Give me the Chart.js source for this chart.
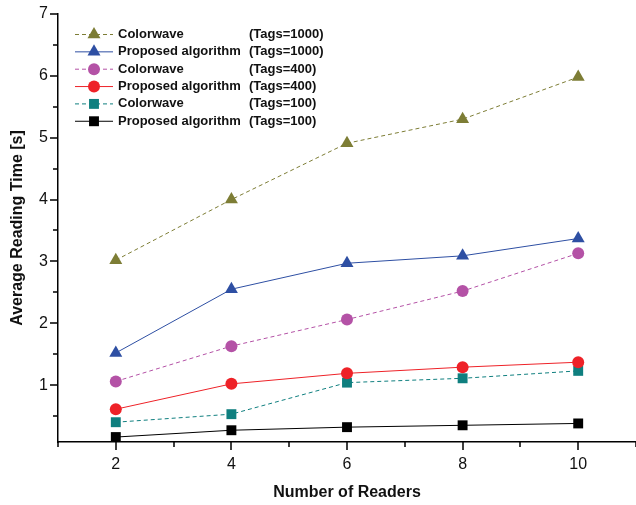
<!DOCTYPE html>
<html>
<head>
<meta charset="utf-8">
<script src="https://cdn.jsdelivr.net/npm/chart.js@4.4.1/dist/chart.umd.min.js"></script>
<style>
  html, body { margin: 0; padding: 0; background: #fff; }
  #wrap { width: 636px; height: 505px; position: relative; }
</style>
</head>
<body>
<div id="wrap"><canvas id="readChart"></canvas></div>
<script>
// Veriler
const readers = [2, 4, 6, 8, 10];
const colorwave1000 = [3.02, 4.00, 4.91, 5.30, 5.98];
const proposed1000 = [1.52, 2.55, 2.97, 3.09, 3.37];
const colorwave400 = [1.06, 1.63, 2.06, 2.52, 3.13];
const proposed400 = [0.61, 1.02, 1.19, 1.29, 1.37];
const colorwave100 = [0.40, 0.53, 1.04, 1.11, 1.23];
const proposed100 = [0.16, 0.27, 0.32, 0.35, 0.38];

const seriesNames = ['Colorwave', 'Proposed algorithm', 'Colorwave', 'Proposed algorithm', 'Colorwave', 'Proposed algorithm'];
const seriesTags = ['(Tags=1000)', '(Tags=1000)', '(Tags=400)', '(Tags=400)', '(Tags=100)', '(Tags=100)'];

const xTicks = [2, 4, 6, 8, 10];
const xMinor = [1, 3, 5, 7, 9, 11];
const yTicks = [1, 2, 3, 4, 5, 6, 7];
const yMinor = [0.5, 1.5, 2.5, 3.5, 4.5, 5.5, 6.5];

const FONT = "'Liberation Sans', Arial, sans-serif";

function series(values, name, tags, color, shape, radius, dashed) {
    return {
        label: name + ' ' + tags,
        data: readers.map((r, i) => ({ x: r, y: values[i] })),
        borderColor: color,
        backgroundColor: color,
        borderWidth: 1,
        borderDash: dashed ? [4, 3] : [],
        pointStyle: shape,
        pointRadius: radius,
        pointHoverRadius: radius,
        pointBorderWidth: 0,
        pointBackgroundColor: color,
        tension: 0,
        fill: false
    };
}

const datasets = [
    series(colorwave1000, seriesNames[0], seriesTags[0], '#7d7d35', 'triangle', 7.5, true),
    series(proposed1000, seriesNames[1], seriesTags[1], '#2e4fa3', 'triangle', 7.5, false),
    series(colorwave400, seriesNames[2], seriesTags[2], '#b452a6', 'circle', 6, true),
    series(proposed400, seriesNames[3], seriesTags[3], '#ee2228', 'circle', 6, false),
    series(colorwave100, seriesNames[4], seriesTags[4], '#0f7f7f', 'rect', 7, true),
    series(proposed100, seriesNames[5], seriesTags[5], '#000000', 'rect', 7, false)
];

// Eksen tik çizgileri (büyük + küçük)
const tickMarks = {
    id: 'tickMarks',
    afterDraw(chart) {
        const { ctx, scales: { x, y }, chartArea } = chart;
        ctx.save();
        ctx.strokeStyle = '#000';
        ctx.lineWidth = 1.5;
        ctx.beginPath();
        xTicks.forEach(v => { const px = Math.round(x.getPixelForValue(v)); ctx.moveTo(px, chartArea.bottom); ctx.lineTo(px, chartArea.bottom + 8); });
        xMinor.forEach(v => { const px = Math.round(x.getPixelForValue(v)); ctx.moveTo(px, chartArea.bottom); ctx.lineTo(px, chartArea.bottom + 5); });
        yTicks.forEach(v => { const py = Math.round(y.getPixelForValue(v)); ctx.moveTo(chartArea.left, py); ctx.lineTo(chartArea.left - 8, py); });
        yMinor.forEach(v => { const py = Math.round(y.getPixelForValue(v)); ctx.moveTo(chartArea.left, py); ctx.lineTo(chartArea.left - 5, py); });
        ctx.stroke();
        ctx.restore();
    }
};

// Lejant: çizgi + işaret + metin
function drawMarker(ctx, shape, cx, cy, r) {
    ctx.beginPath();
    if (shape === 'triangle') {
        ctx.moveTo(cx, cy - r);
        ctx.lineTo(cx + r * Math.sin(2 * Math.PI / 3), cy - r * Math.cos(2 * Math.PI / 3));
        ctx.lineTo(cx + r * Math.sin(4 * Math.PI / 3), cy - r * Math.cos(4 * Math.PI / 3));
        ctx.closePath();
    } else if (shape === 'circle') {
        ctx.arc(cx, cy, r, 0, Math.PI * 2);
    } else {
        const s = r * Math.SQRT1_2;
        ctx.rect(cx - s, cy - s, 2 * s, 2 * s);
    }
    ctx.fill();
}

const legendPlugin = {
    id: 'legendPlugin',
    afterDraw(chart) {
        const { ctx } = chart;
        ctx.save();
        ctx.font = 'bold 13px ' + FONT;
        ctx.textBaseline = 'middle';
        ctx.textAlign = 'left';
        chart.data.datasets.forEach((ds, i) => {
            const cy = 34.5 + i * 17.35;
            ctx.strokeStyle = ds.borderColor;
            ctx.lineWidth = 1;
            ctx.setLineDash(ds.borderDash);
            ctx.beginPath();
            ctx.moveTo(75, cy);
            ctx.lineTo(113, cy);
            ctx.stroke();
            ctx.setLineDash([]);
            ctx.fillStyle = ds.borderColor;
            drawMarker(ctx, ds.pointStyle, 94, cy, ds.pointRadius);
            ctx.fillStyle = '#111';
            ctx.fillText(seriesNames[i], 118, cy);
            ctx.fillText(seriesTags[i], 249, cy);
        });
        ctx.restore();
    }
};

new Chart(document.getElementById('readChart').getContext('2d'), {
    type: 'line',
    data: { datasets },
    plugins: [tickMarks, legendPlugin],
    options: {
        responsive: true,
        maintainAspectRatio: false,
        animation: false,
        layout: { autoPadding: false, padding: { top: 14, right: 0, left: 0, bottom: 0 } },
        plugins: { legend: { display: false }, tooltip: { enabled: false } },
        scales: {
            x: {
                type: 'linear',
                min: 1,
                max: 11,
                afterBuildTicks: s => { s.ticks = xTicks.map(v => ({ value: v })); },
                afterFit: s => { s.height = 63; s.paddingLeft = 0; s.paddingRight = 0; },
                grid: { display: false, drawTicks: false },
                border: { display: true, color: '#000', width: 1.5 },
                ticks: { padding: 13, color: '#111', font: { family: FONT, size: 16 }, maxRotation: 0 },
                title: {
                    display: true,
                    text: 'Number of Readers',
                    color: '#111',
                    font: { family: FONT, size: 16, weight: 'bold' },
                    padding: { top: 0, bottom: 2.5 }
                }
            },
            y: {
                min: 0.08,
                max: 7,
                afterBuildTicks: s => { s.ticks = yTicks.map(v => ({ value: v })); },
                afterFit: s => { s.width = 58; s.paddingTop = 0; s.paddingBottom = 0; },
                grid: { display: false, drawTicks: false },
                border: { display: true, color: '#000', width: 1.5 },
                ticks: { padding: 10, color: '#111', font: { family: FONT, size: 16 } },
                title: {
                    display: true,
                    text: 'Average Reading Time [s]',
                    color: '#111',
                    font: { family: FONT, size: 16, weight: 'bold' },
                    padding: { top: 8, bottom: 0 }
                }
            }
        }
    }
});
</script>
</body>
</html>
